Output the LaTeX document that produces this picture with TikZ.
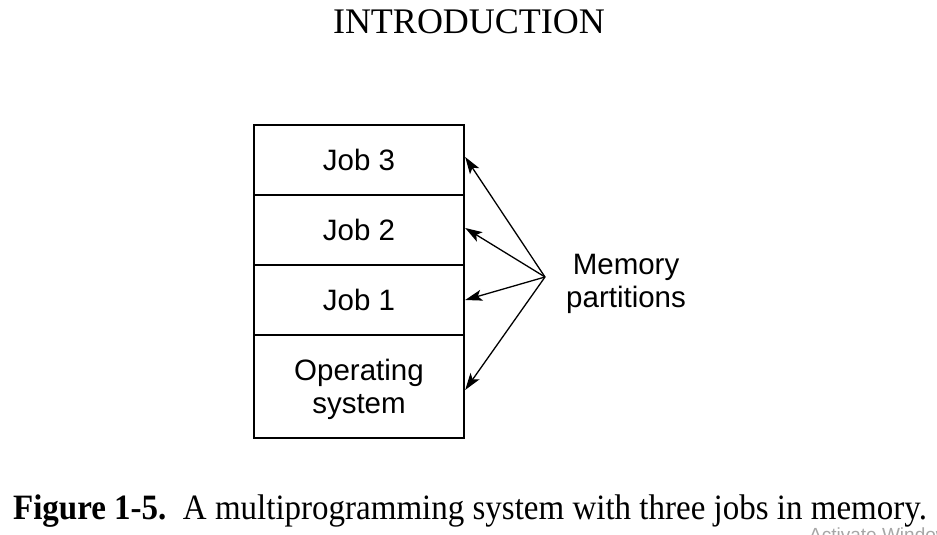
\documentclass[tikz,border=0pt]{standalone}
\usepackage{fontspec}
\setmainfont{Liberation Serif}
\newfontfamily\helv{Liberation Sans}
\usetikzlibrary{arrows.meta}
\tikzset{
  part/.style={draw, line width=2.4pt, minimum width=210pt, inner sep=0pt, font=\helv\fontsize{29.5}{33}\selectfont, align=center},
  lbl/.style={inner sep=0pt, font=\helv\fontsize{29.5}{33}\selectfont, align=center},
  ptr/.style={line width=1.3pt, -{Stealth[length=17pt,width=11pt,inset=4pt]}}
}
\begin{document}
\begin{tikzpicture}[x=1pt,y=-1pt]
\useasboundingbox (0,0) rectangle (937,535);
\clip (0,0) rectangle (937,535);
\node[inner sep=0pt, font=\fontsize{36}{40}\selectfont] (title) at (469,22) {INTRODUCTION};
\node[part, minimum height=70pt] (j3) at (359,160) {Job 3};
\node[part, minimum height=70pt] (j2) at (359,230) {Job 2};
\node[part, minimum height=70pt] (j1) at (359,300) {Job 1};
\node[part, minimum height=103pt, text depth=-2pt] (os) at (359,386.5) {Operating\\system};
\coordinate (mp) at (545,277);
\node[lbl, anchor=west] (mem) at (566,284) {Memory\\partitions};
\draw[ptr] (mp) -- ([yshift=3pt]j3.east);
\draw[ptr] (mp) -- ([yshift=2pt]j2.east);
\draw[ptr] (mp) -- (j1.east);
\draw[ptr] (mp) -- ([yshift=-3.5pt]os.east);
\node[inner sep=0pt, anchor=base, font=\fontsize{33}{36}\selectfont] (cap) at (470,519) {\scalebox{1}[1.08]{\textbf{Figure 1-5.}\ \ A multiprogramming system with three jobs in memory.}};
\node[inner sep=0pt, anchor=base west, text=black!35, font=\helv\fontsize{19}{20}\selectfont] (wm) at (809,541) {Activate Windows};
\end{tikzpicture}
\end{document}
